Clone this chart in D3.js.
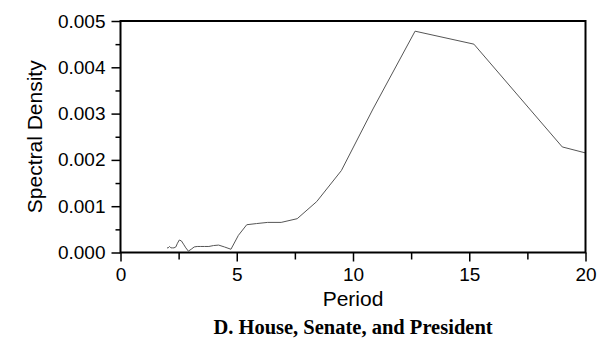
<!DOCTYPE html>
<html>
<head>
<meta charset="utf-8">
<script src="https://cdn.jsdelivr.net/npm/d3@7"></script>
<style>
  html, body { margin: 0; padding: 0; background: #fff; }
  svg { display: block; }
  .tick text { font-family: "Liberation Sans", Arial, sans-serif; font-size: 19px; fill: #000; }
</style>
</head>
<body>
<div id="chart"></div>
<script>
// spectral density by period
const periods = [2, 2.05, 2.11, 2.17, 2.24, 2.3, 2.38, 2.45, 2.53, 2.62, 2.71, 2.81, 2.92, 3.04,
  3.17, 3.3, 3.45, 3.62, 3.8, 4, 4.22, 4.47, 4.75, 5.07, 5.43, 5.85, 6.33, 6.91, 7.6, 8.44,
  9.5, 10.86, 12.67, 15.2, 19, 25.33];
const density = [0.0001, 0.0001, 0.00013, 0.0001, 0.0001, 0.0001, 0.00012, 0.0002, 0.00027,
  0.00025, 0.00018, 0.0001, 0.00003, 0.00007, 0.00012, 0.00013, 0.00013, 0.00013, 0.00013,
  0.00015, 0.00016, 0.00012, 0.00007, 0.00037, 0.0006, 0.000625, 0.00065, 0.00065, 0.00073,
  0.0011, 0.00177, 0.0031, 0.00478, 0.0045, 0.00228, 0.00146];

const xTicks = [0, 5, 10, 15, 20];
const xMinor = [2.5, 7.5, 12.5, 17.5];
const yTicks = [0, 0.001, 0.002, 0.003, 0.004, 0.005];
const yMinor = [0.0005, 0.0015, 0.0025, 0.0035, 0.0045];

const xLabel = 'Period';
const yLabel = 'Spectral Density';
const title = 'D. House, Senate, and President';

const width = 611, height = 343;
const margin = { top: 21, right: 25.5, bottom: 90.5, left: 120.5 };
const innerWidth = width - margin.left - margin.right;
const innerHeight = height - margin.top - margin.bottom;

const svg = d3.select('#chart').append('svg')
  .attr('width', width)
  .attr('height', height);

const g = svg.append('g')
  .attr('transform', `translate(${margin.left},${margin.top})`);

const x = d3.scaleLinear().domain([0, 20]).range([0, innerWidth]);
const y = d3.scaleLinear().domain([0, 0.005]).range([innerHeight, 0]);

g.append('clipPath').attr('id', 'plot-clip')
  .append('rect').attr('width', innerWidth).attr('height', innerHeight);

const line = d3.line()
  .x((d, i) => x(periods[i]))
  .y(d => y(d));

g.append('path')
  .datum(density)
  .attr('clip-path', 'url(#plot-clip)')
  .attr('fill', 'none')
  .attr('stroke', '#555')
  .attr('stroke-width', 1)
  .attr('d', line);

// minor ticks
g.append('g')
  .attr('transform', `translate(0,${innerHeight})`)
  .call(d3.axisBottom(x).tickValues(xMinor).tickSize(7).tickFormat(''))
  .call(a => a.select('.domain').remove())
  .call(a => a.selectAll('line').attr('stroke-width', 1.5));

g.append('g')
  .call(d3.axisLeft(y).tickValues(yMinor).tickSize(5).tickFormat(''))
  .call(a => a.select('.domain').remove())
  .call(a => a.selectAll('line').attr('stroke-width', 1.5));

// major ticks
g.append('g')
  .attr('transform', `translate(0,${innerHeight})`)
  .call(d3.axisBottom(x).tickValues(xTicks).tickSize(9).tickPadding(6).tickSizeOuter(0))
  .call(a => a.select('.domain').remove())
  .call(a => a.selectAll('line').attr('stroke-width', 1.5));

g.append('g')
  .call(d3.axisLeft(y).tickValues(yTicks).tickSize(9).tickPadding(6)
    .tickFormat(d3.format('.3f')).tickSizeOuter(0))
  .call(a => a.select('.domain').remove())
  .call(a => a.selectAll('line').attr('stroke-width', 1.5));

// frame
g.append('rect')
  .attr('width', innerWidth)
  .attr('height', innerHeight)
  .attr('fill', 'none')
  .attr('stroke', '#000')
  .attr('stroke-width', 2);

svg.append('text')
  .attr('x', margin.left + innerWidth / 2)
  .attr('y', 306)
  .attr('text-anchor', 'middle')
  .attr('font-family', '"Liberation Sans", Arial, sans-serif')
  .attr('font-size', 21)
  .text(xLabel);

svg.append('text')
  .attr('transform', `translate(42,${margin.top + innerHeight / 2}) rotate(-90)`)
  .attr('text-anchor', 'middle')
  .attr('font-family', '"Liberation Sans", Arial, sans-serif')
  .attr('font-size', 21)
  .text(yLabel);

svg.append('text')
  .attr('x', margin.left + innerWidth / 2)
  .attr('y', 334)
  .attr('text-anchor', 'middle')
  .attr('font-family', '"Liberation Serif", "Times New Roman", serif')
  .attr('font-weight', 'bold')
  .attr('font-size', 20.5)
  .text(title);
</script>
</body>
</html>
